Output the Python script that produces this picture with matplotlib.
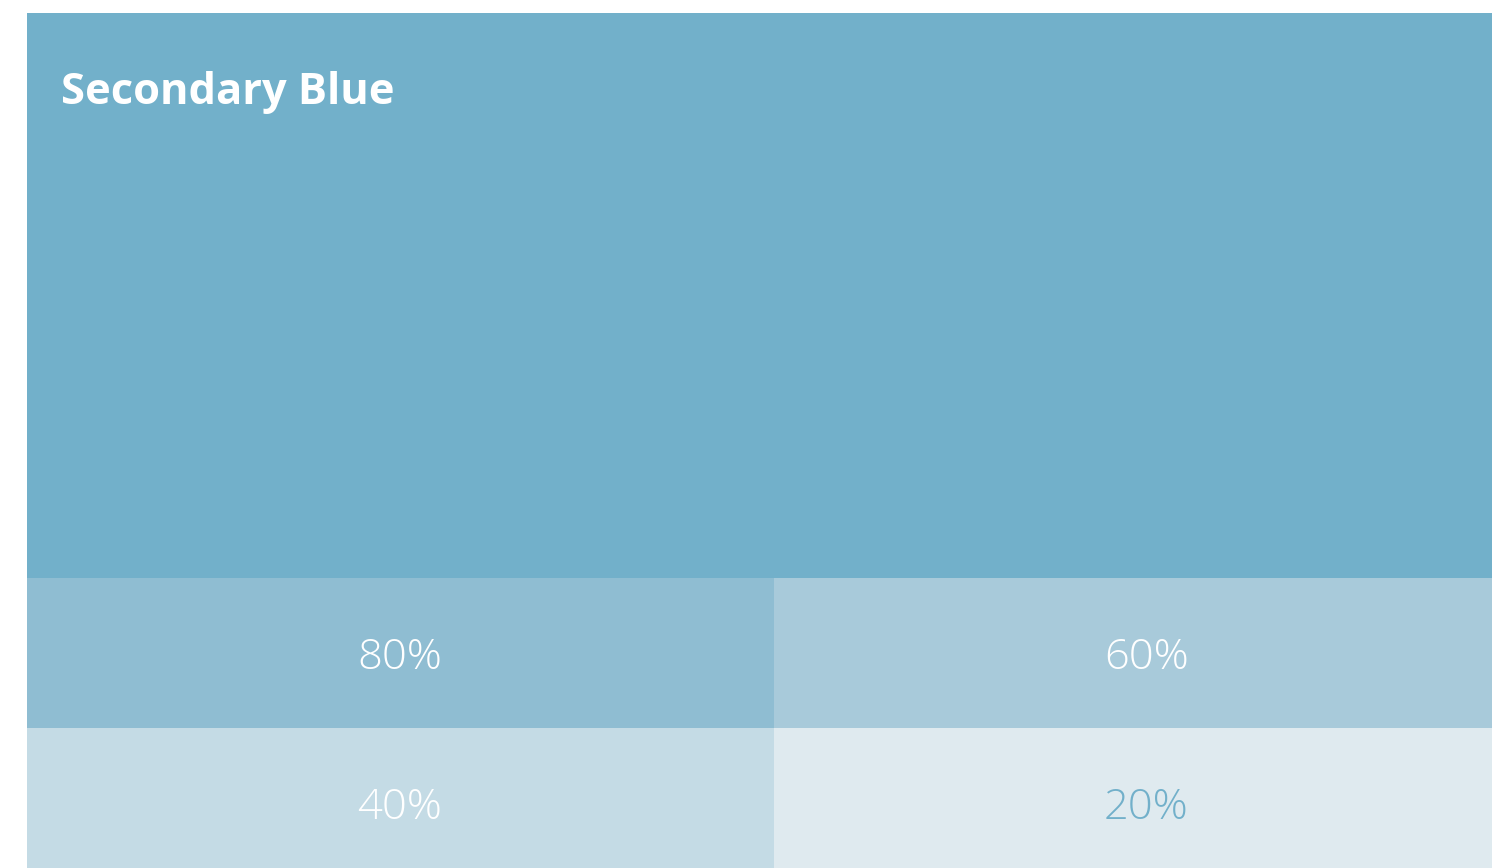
import matplotlib
matplotlib.use("Agg")
import matplotlib.pyplot as plt
from matplotlib.patches import Rectangle

title = "Secondary Blue"
main_color = "#72B0CA"
tile_labels = ["80%", "60%", "40%", "20%"]
tile_colors = ["#8FBDD2", "#A8CADA", "#C4DBE5", "#DFEAEF"]
label_colors = ["#FFFFFF", "#FFFFFF", "#FFFFFF", "#72B0CA"]

W, H = 1492, 868
fig = plt.figure(figsize=(W / 100, H / 100), dpi=100)
ax = fig.add_axes([0, 0, 1, 1])
ax.set_xlim(0, W)
ax.set_ylim(H, 0)
ax.axis("off")
fig.patch.set_facecolor("white")

x0, y0 = 27, 13
tile_w, tile_h = 747, 150
main_h = 565

ax.add_patch(Rectangle((x0, y0), 2 * tile_w, main_h, facecolor=main_color, edgecolor="none"))
ax.text(61, 92, title, fontsize=31.2, fontweight="bold", family=["Open Sans", "DejaVu Sans"],
        color="white", ha="left", va="center")

for i, (lab, c, tc) in enumerate(zip(tile_labels, tile_colors, label_colors)):
    col, row = i % 2, i // 2
    x = x0 + col * tile_w
    y = y0 + main_h + row * tile_h
    ax.add_patch(Rectangle((x, y), tile_w, tile_h, facecolor=c, edgecolor="none"))
    ax.text(x + tile_w / 2 - 1, y + tile_h / 2 + 5, lab, fontsize=31.3, fontweight="light",
            family=["Open Sans", "DejaVu Sans"], color=tc, ha="center", va="center")

fig.savefig("out.png", dpi=100)
